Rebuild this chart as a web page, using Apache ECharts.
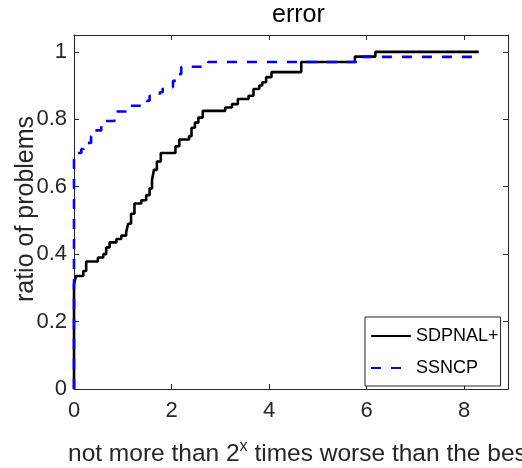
<!DOCTYPE html>
<html>
<head>
<meta charset="utf-8">
<script src="https://cdn.jsdelivr.net/npm/echarts@6/dist/echarts.min.js"></script>
<style>
  html, body { margin: 0; padding: 0; background: #fff; }
  #chart { width: 522px; height: 468px; }
</style>
</head>
<body>
<div id="chart"></div>
<script>
// performance profile: [x, ratio] where the new level is reached
const sdpnal = [
  [0, 0], [0, 0.31], [0.04, 0.335], [0.19, 0.35], [0.25, 0.378], [0.49, 0.39],
  [0.6, 0.4], [0.66, 0.42], [0.73, 0.435], [0.87, 0.445], [0.97, 0.455],
  [1.07, 0.465], [1.11, 0.49], [1.17, 0.52], [1.24, 0.55], [1.38, 0.56],
  [1.48, 0.575], [1.55, 0.595], [1.6, 0.62], [1.64, 0.65], [1.7, 0.675],
  [1.78, 0.7], [2.08, 0.72], [2.16, 0.74], [2.36, 0.75], [2.41, 0.775],
  [2.48, 0.79], [2.55, 0.805], [2.64, 0.825], [3.1, 0.835], [3.24, 0.845],
  [3.36, 0.86], [3.58, 0.87], [3.68, 0.89], [3.8, 0.9], [3.86, 0.91],
  [3.94, 0.925], [4.05, 0.94], [4.66, 0.97], [5.76, 0.986], [6.18, 1.0],
  [8.3, 1.0]
];
const ssncp = [
  [0, 0], [0, 0.7], [0.15, 0.712], [0.2, 0.73], [0.35, 0.75], [0.42, 0.767],
  [0.56, 0.795], [0.83, 0.823], [1.14, 0.84], [1.5, 0.855], [1.55, 0.87],
  [1.76, 0.88], [1.82, 0.895], [2.03, 0.914], [2.1, 0.934], [2.2, 0.956],
  [2.75, 0.97], [5.86, 0.985], [8.3, 0.985]
];
const seriesNames = ["SDPNAL+", "SSNCP"];
const xTicks = [0, 2, 4, 6, 8];
const yTicks = [0, 0.2, 0.4, 0.6, 0.8, 1];

const axisColor = "#262626";
const font = "Liberation Sans, Arial, sans-serif";

const chart = echarts.init(document.getElementById("chart"), null, { renderer: "canvas" });

const baseX = {
  type: "value",
  min: 0,
  max: 8.9,
  interval: 2,
  splitLine: { show: false },
  axisLine: { onZero: false, lineStyle: { color: axisColor, width: 1 } },
  axisTick: { inside: true, length: 5, lineStyle: { color: axisColor } },
};
const baseY = {
  type: "value",
  min: 0,
  max: 1.05,
  interval: 0.2,
  splitLine: { show: false },
  axisLine: { onZero: false, lineStyle: { color: axisColor, width: 1 } },
  axisTick: { inside: true, length: 5, lineStyle: { color: axisColor } },
};

const option = {
  animation: false,
  backgroundColor: "#fff",
  grid: {
    left: 74, top: 35, right: 14, bottom: 79,
    containLabel: false,
    outerBoundsMode: "none",
  },
  xAxis: [
    Object.assign({}, baseX, {
      position: "bottom",
      axisLabel: {
        color: axisColor, fontFamily: font, fontSize: 22, margin: 11,
        showMaxLabel: false,
        formatter: (v) => (xTicks.includes(v) ? String(v) : ""),
      },
    }),
    Object.assign({}, baseX, { position: "top", axisLabel: { show: false } }),
  ],
  yAxis: [
    Object.assign({}, baseY, {
      position: "left",
      axisLabel: {
        color: axisColor, fontFamily: font, fontSize: 22, margin: 7,
        showMaxLabel: false,
        formatter: (v) => {
          const t = yTicks.find((k) => Math.abs(k - v) < 1e-6);
          return t === undefined ? "" : String(t);
        },
      },
    }),
    Object.assign({}, baseY, { position: "right", axisLabel: { show: false } }),
  ],
  legend: {
    orient: "vertical",
    left: 365,
    top: 317,
    padding: [10, 2, 9, 5],
    itemWidth: 40,
    itemHeight: 14,
    itemGap: 14,
    borderColor: axisColor,
    borderWidth: 1,
    borderRadius: 0,
    backgroundColor: "#fff",
    itemStyle: { opacity: 0 },
    textStyle: { fontFamily: font, fontSize: 18, color: "#000" },
    data: seriesNames,
  },
  graphic: [
    {
      type: "text",
      x: 272,
      y: 3,
      style: {
        text: "error",
        fontFamily: font,
        fontSize: 25,
        fill: "#000",
        align: "left",
        verticalAlign: "top",
      },
    },
    {
      type: "text",
      x: 26,
      y: 209,
      rotation: Math.PI / 2,
      style: {
        text: "ratio of problems",
        fontFamily: font,
        fontSize: 25,
        fill: axisColor,
        align: "center",
        verticalAlign: "middle",
      },
    },
    {
      type: "text",
      x: 68,
      y: 439,
      style: {
        text: "not more than 2{s|x} times worse than the best",
        fontFamily: font,
        fontSize: 24.5,
        fill: axisColor,
        rich: {
          s: { fontFamily: font, fontSize: 16, fill: axisColor, verticalAlign: "top", padding: [0, 0, 14, 0] },
        },
      },
    },
  ],
  series: [
    {
      name: seriesNames[0],
      type: "line",
      step: "end",
      symbol: "none",
      data: sdpnal,
      lineStyle: { color: "#000", width: 2.6 },
      itemStyle: { color: "#000" },
      z: 2,
    },
    {
      name: seriesNames[1],
      type: "line",
      step: "end",
      symbol: "none",
      data: ssncp,
      lineStyle: { color: "#0000ff", width: 2.6, type: [10, 10] },
      itemStyle: { color: "#0000ff" },
      z: 3,
    },
  ],
};

chart.setOption(option);
</script>
</body>
</html>
